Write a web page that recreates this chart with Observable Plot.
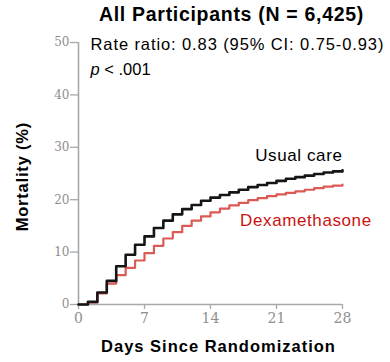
<!DOCTYPE html>
<html>
<head>
<meta charset="utf-8">
<script src="https://cdn.jsdelivr.net/npm/d3@7"></script>
<script src="https://cdn.jsdelivr.net/npm/@observablehq/plot@0.6"></script>
<style>
  html, body { margin: 0; padding: 0; background: #fff; }
  #chart { width: 390px; height: 362px; }
</style>
</head>
<body>
<div id="chart"></div>
<script>
const days = d3.range(0, 29);
const usualCare = [0, 0.5, 2.3, 4.5, 7.3, 9.5, 11.4, 13.0, 14.6, 16.0, 17.2, 18.2, 19.0, 19.8, 20.4, 20.9, 21.4, 21.9, 22.4, 22.8, 23.2, 23.6, 24.0, 24.3, 24.6, 24.9, 25.2, 25.4, 25.6];
const dexamethasone = [0, 0.4, 2.1, 4.0, 5.6, 7.0, 8.4, 9.8, 11.2, 12.6, 13.8, 15.0, 16.0, 16.8, 17.6, 18.3, 18.9, 19.4, 19.9, 20.3, 20.7, 21.0, 21.3, 21.6, 21.9, 22.2, 22.5, 22.7, 22.9];
const xTicks = [0, 7, 14, 21, 28];
const yTicks = [0, 10, 20, 30, 40, 50];
const title = ["All Participants (N = 6,425)"];
const statLine = ["Rate ratio: 0.83 (95% CI: 0.75-0.93)"];
const pLine = ["p < .001"];
const seriesLabels = ["Usual care", "Dexamethasone"];
const xLabel = ["Days Since Randomization"];
const yLabel = ["Mortality (%)"];

const usualData = days.map((d, i) => ({day: d, value: usualCare[i]}));
const dexaData = days.map((d, i) => ({day: d, value: dexamethasone[i]}));

const axisColor = "#a8a8a8";
const tickFont = "DejaVu Serif";

const plot = Plot.plot({
  width: 390,
  height: 362,
  marginTop: 42,
  marginBottom: 58,
  marginLeft: 78,
  marginRight: 48,
  style: {fontFamily: "Liberation Sans", background: "#fff", overflow: "visible"},
  x: {domain: [0, 28]},
  y: {domain: [0, 50]},
  marks: [
    Plot.ruleX([0], {y1: 0, y2: 50, stroke: axisColor, strokeWidth: 1.6}),
    Plot.ruleY([0], {x1: 0, x2: 28, stroke: axisColor, strokeWidth: 1.6}),
    Plot.axisY({ticks: yTicks, tickSize: 8, tickPadding: 1, stroke: axisColor, color: "#8e8e8e", fontFamily: tickFont, fontSize: 12, label: null, strokeWidth: 1.3}),
    Plot.axisX({ticks: xTicks, tickSize: 5, tickPadding: 4, stroke: axisColor, color: "#8e8e8e", fontFamily: tickFont, fontSize: 14, label: null, strokeWidth: 1.3}),
    Plot.line(dexaData, {x: "day", y: "value", curve: "step-after", stroke: "#dc5a55", strokeWidth: 2.2}),
    Plot.line(usualData, {x: "day", y: "value", curve: "step-after", stroke: "#151515", strokeWidth: 2.6}),
    Plot.text(title, {frameAnchor: "top", text: d => d, dx: 21, dy: -35, fontWeight: "bold", fontSize: 19.5, fill: "#000"}),
    Plot.text(statLine, {frameAnchor: "top-left", text: d => d, dx: 12, dy: -4, fontSize: 16.5, textAnchor: "start", fill: "#000"}),
    Plot.text(pLine, {frameAnchor: "top-left", text: d => d, dx: 12, dy: 21, fontSize: 16.5, textAnchor: "start", fill: "#000"}),
    Plot.text([seriesLabels[0]], {x: 28, y: 28.5, text: d => d, textAnchor: "end", fontSize: 17, fill: "#000"}),
    Plot.text([seriesLabels[1]], {x: 31.1, y: 16, text: d => d, textAnchor: "end", fontSize: 17, fill: "#cc1111"}),
    Plot.text(xLabel, {frameAnchor: "bottom", text: d => d, dx: 8, dy: 47, fontWeight: "bold", fontSize: 16.5, fill: "#000"}),
    Plot.text(yLabel, {x: -5.9, y: 24.4, text: d => d, rotate: -90, textAnchor: "middle", lineAnchor: "middle", fontWeight: "bold", fontSize: 16.5, fill: "#000"})
  ]
});
document.getElementById("chart").appendChild(plot);

const root = d3.select(plot);
const sel = root.selectAll("text");
sel.filter(function(){ return this.textContent === "p < .001"; })
  .each(function(){
    const t = d3.select(this);
    const txt = t.text();
    t.text("");
    t.append("tspan").attr("font-style", "italic").text("p");
    t.append("tspan").text(txt.slice(1));
  });
const spacing = {};
spacing[statLine[0]] = "0.9px";
spacing[yLabel[0]] = "0.8px";
spacing[title[0]] = "0.7px";
spacing[xLabel[0]] = "1px";
spacing[seriesLabels[0]] = "0.6px";
spacing[seriesLabels[1]] = "0.6px";
sel.each(function(){
  const s = spacing[this.textContent];
  if (s) d3.select(this).style("letter-spacing", s);
});
</script>
</body>
</html>
